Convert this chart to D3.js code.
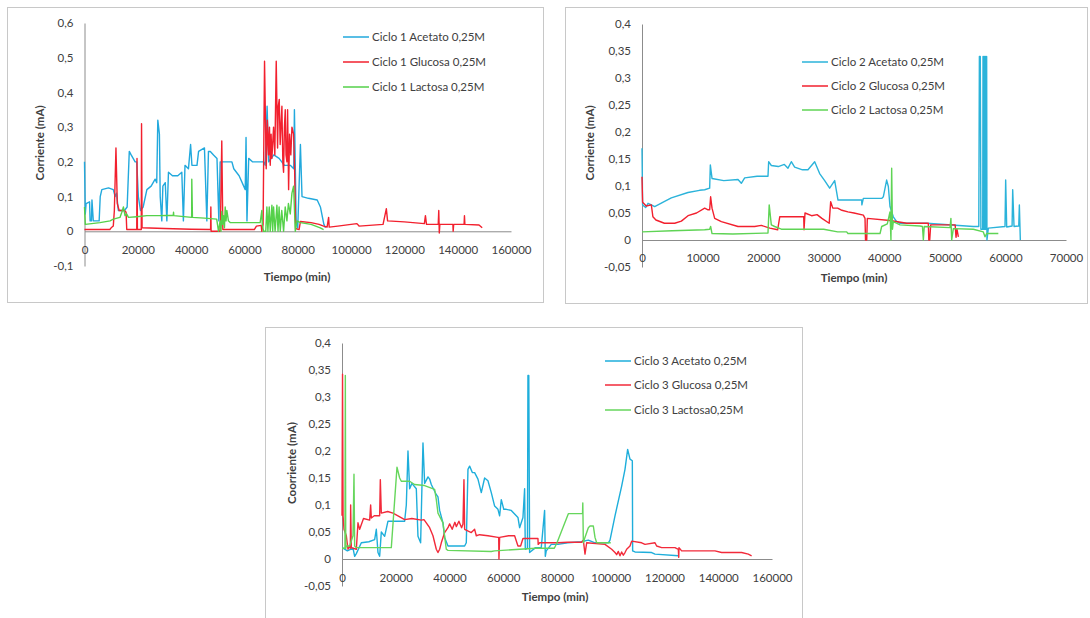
<!DOCTYPE html>
<html><head><meta charset="utf-8">
<script src="https://cdn.jsdelivr.net/npm/d3@7"></script>
<style>
html,body{margin:0;padding:0;background:#fff;}
svg{display:block;font-family:Lato,"Open Sans",sans-serif;}
</style></head>
<body>
<svg id="chart" width="1090" height="618"></svg>
<script>
// ---------- DATA ----------
const legend1 = ["Ciclo 1 Acetato 0,25M", "Ciclo 1 Glucosa 0,25M", "Ciclo 1 Lactosa 0,25M"];
const legend2 = ["Ciclo 2 Acetato 0,25M", "Ciclo 2 Glucosa 0,25M", "Ciclo 2 Lactosa 0,25M"];
const legend3 = ["Ciclo 3 Acetato 0,25M", "Ciclo 3 Glucosa 0,25M", "Ciclo 3 Lactosa0,25M"];
const yTitles = ["Corriente (mA)", "Corriente (mA)", "Coorriente (mA)"];
const xTitle = "Tiempo (min)";

const xTicks1 = [0,20000,40000,60000,80000,100000,120000,140000,160000];
const yTicks1 = [-0.1,0,0.1,0.2,0.3,0.4,0.5,0.6];
const xTicks2 = [0,10000,20000,30000,40000,50000,60000,70000];
const yTicks2 = [-0.05,0,0.05,0.1,0.15,0.2,0.25,0.3,0.35,0.4];
const xTicks3 = [0,20000,40000,60000,80000,100000,120000,140000,160000];
const yTicks3 = [-0.05,0,0.05,0.1,0.15,0.2,0.25,0.3,0.35,0.4];

const c1Acetato = [[0,0.2],[300,0.05],[600,0.08],[1900,0.085],[2100,0.03],[2600,0.03],[2800,0.09],[3300,0.03],[5500,0.03],[5900,0.1],[6500,0.12],[9000,0.125],[10800,0.12],[11500,0.1],[12000,0.11],[12700,0.06],[15000,0.06],[16000,0.07],[16800,0.23],[17500,0.22],[19000,0.2],[19600,0.2],[20200,0.1],[21000,0.06],[22000,0.07],[23400,0.12],[25000,0.13],[26500,0.15],[27100,0.14],[27500,0.32],[28100,0.28],[28400,0.1],[29000,0.03],[29400,0.13],[30300,0.14],[30900,0.03],[31500,0.17],[33000,0.16],[35000,0.16],[36500,0.17],[37100,0.03],[37700,0.19],[39000,0.18],[39800,0.25],[40300,0.19],[42200,0.19],[42800,0.23],[45000,0.24],[45900,0.03],[46500,0.23],[47200,0.23],[48400,0.22],[49700,0.21],[50400,0.03],[50900,0.2],[53000,0.2],[55300,0.2],[56000,0.18],[58000,0.16],[60300,0.12],[60600,0.27],[60950,0.03],[61600,0.21],[63000,0.2],[67200,0.2],[67800,0.19],[68500,0.36],[69100,0.2],[71000,0.22],[73000,0.21],[75000,0.19],[77200,0.19],[78500,0.18],[78750,0.35],[79400,0.03],[80000,0.01],[81000,0.25],[81600,0.1],[84000,0.095],[87300,0.09],[88500,0.07],[89800,0.02],[90400,0.01]];
const c1Glucosa = [[0,0.005],[9500,0.005],[10000,0.01],[10800,0.015],[11200,0.06],[11800,0.24],[12300,0.08],[13000,0.06],[15000,0.06],[15600,0.055],[15850,0.005],[19600,0.005],[19700,0.21],[19850,0.005],[21300,0.005],[21400,0.31],[21600,0.01],[30000,0.008],[40000,0.006],[47300,0.005],[47400,0.07],[47500,0.0],[50800,0.0],[51000,0.02],[51500,0.26],[51900,0.005],[60000,0.005],[63700,0.005],[64500,0.015],[66300,0.017],[66500,0.0],[67000,0.02],[67540,0.49],[68170,0.18],[68600,0.32],[69050,0.22],[69400,0.3],[69680,0.19],[70000,0.28],[70300,0.21],[70930,0.3],[71400,0.22],[71930,0.49],[72430,0.24],[72700,0.36],[73060,0.38],[73400,0.25],[74060,0.36],[74400,0.2],[74680,0.17],[75000,0.3],[75310,0.35],[75600,0.22],[75940,0.2],[76190,0.35],[76570,0.12],[76940,0.28],[77400,0.22],[77820,0.3],[78440,0.28],[78820,0.18],[79190,0.008],[80500,0.005],[81000,0.028],[85000,0.025],[88000,0.02],[89700,0.015],[91000,0.012],[91580,0.04],[91800,0.012],[95000,0.015],[100000,0.02],[102200,0.022],[103000,0.015],[112000,0.02],[113240,0.065],[113700,0.03],[120000,0.027],[127500,0.022],[127900,0.045],[128300,0.02],[132700,0.02],[132900,0.06],[133100,-0.005],[133300,0.02],[138200,0.02],[138300,0.0],[138500,0.02],[142400,0.02],[142540,0.045],[142700,0.02],[148000,0.018],[149190,0.01]];
const c1Lactosa = [[0,0.07],[300,0.02],[5800,0.025],[9600,0.03],[10800,0.035],[13300,0.04],[14000,0.055],[14600,0.07],[15200,0.045],[15800,0.05],[16500,0.04],[19600,0.042],[23400,0.045],[28000,0.045],[33300,0.046],[33400,0.055],[33500,0.045],[40200,0.04],[40250,0.15],[40500,0.04],[45000,0.038],[49600,0.035],[50270,0.0],[50900,0.03],[51200,0.0],[51520,0.057],[51800,0.02],[52150,0.045],[52500,0.01],[52780,0.07],[53100,0.03],[53400,0.06],[54000,0.03],[54650,0.025],[60000,0.025],[65900,0.025],[66540,0.06],[66700,0.02],[67170,0.0],[68000,0.0],[68420,0.07],[68800,0.0],[69300,0.07],[69680,0.0],[70300,0.075],[70600,0.0],[70930,0.07],[71500,0.0],[72180,0.075],[72600,0.0],[73000,0.07],[73440,0.0],[74000,0.06],[74690,0.0],[75300,0.07],[75940,0.03],[76500,0.08],[77190,0.05],[77820,0.11],[78440,0.13],[79070,0.0],[79690,0.03],[81000,0.025],[85000,0.02],[88450,0.01],[89700,0.005]];

const c2Acetato = [[0,0.17],[100,0.065],[600,0.06],[1000,0.068],[1540,0.065],[2090,0.062],[3500,0.07],[4840,0.078],[7590,0.088],[9500,0.092],[10350,0.093],[11170,0.096],[11280,0.139],[11560,0.114],[13500,0.11],[15850,0.112],[16400,0.105],[16950,0.115],[19000,0.118],[20800,0.118],[20910,0.145],[21350,0.138],[22500,0.136],[23500,0.14],[24100,0.133],[24650,0.145],[25200,0.135],[26500,0.13],[27400,0.13],[28510,0.145],[29330,0.123],[30160,0.11],[30980,0.096],[31810,0.11],[32360,0.074],[34010,0.074],[36270,0.074],[36300,0.065],[36540,0.077],[39570,0.077],[39840,0.08],[40390,0.111],[40670,0.099],[40940,0.062],[41490,0.043],[42040,0.034],[42590,0.031],[46990,0.031],[54700,0.025],[55600,0.025],[55700,0.34],[55850,0.34],[55950,0.02],[56250,0.02],[56300,0.34],[56380,0.02],[56450,0.34],[56520,0.02],[56600,0.34],[56680,0.02],[56750,0.34],[56820,0.02],[56900,0.34],[56950,0.0],[57180,0.022],[59930,0.025],[60040,0.111],[60210,0.024],[61100,0.026],[61200,0.093],[61420,0.025],[62200,0.026],[62300,0.065],[62460,0.0]];
const c2Glucosa = [[0,0.117],[100,0.07],[700,0.063],[1540,0.065],[1800,0.043],[2300,0.037],[3700,0.031],[5400,0.031],[6500,0.035],[7600,0.045],[9000,0.05],[10350,0.059],[10900,0.056],[11170,0.056],[11330,0.08],[11560,0.059],[12000,0.04],[13100,0.034],[15850,0.025],[18600,0.025],[19700,0.027],[21100,0.022],[22400,0.019],[22740,0.043],[26700,0.043],[26750,0.019],[26910,0.05],[28000,0.045],[28900,0.047],[29700,0.04],[30900,0.031],[31150,0.071],[31500,0.059],[32300,0.059],[33000,0.055],[34000,0.052],[35000,0.05],[36540,0.046],[36820,0.04],[36900,0.0],[37100,0.0],[37200,0.04],[40940,0.036],[43700,0.031],[47270,0.031],[47350,0.0],[47500,0.0],[47660,0.028],[51400,0.028],[51700,0.028],[51840,0.005],[52000,0.02],[52230,0.006]];
const c2Lactosa = [[0,0.015],[5000,0.017],[10350,0.019],[11170,0.02],[11330,0.025],[11560,0.012],[15000,0.011],[20800,0.013],[21000,0.065],[21350,0.028],[21900,0.025],[23000,0.02],[30000,0.02],[32300,0.015],[33790,0.015],[34000,0.012],[38000,0.012],[39300,0.012],[39570,0.025],[40500,0.03],[40940,0.052],[41100,0.0],[41220,0.133],[41350,0.02],[41490,0.034],[42590,0.028],[45900,0.026],[46300,0.025],[46450,0.0],[46600,0.025],[50850,0.023],[51000,0.04],[51130,0.0],[51400,0.021],[54700,0.02],[56350,0.015],[56630,0.006],[56900,0.012],[58550,0.012],[58830,0.012]];

const c3Acetato = [[0,0.02],[370,0.02],[2000,0.015],[4090,0.02],[4710,0.005],[5330,0.01],[7190,0.03],[10000,0.032],[12150,0.036],[12770,0.055],[13390,0.012],[14010,0.005],[14630,0.05],[15870,0.042],[17110,0.07],[20000,0.07],[23310,0.07],[23930,0.1],[24550,0.2],[25170,0.13],[26000,0.14],[27650,0.13],[28270,0.042],[29260,0.03],[30130,0.215],[30750,0.14],[32000,0.152],[32610,0.148],[33230,0.138],[35000,0.12],[35710,0.115],[36330,0.09],[37570,0.067],[38190,0.04],[39430,0.024],[45630,0.024],[46250,0.03],[46870,0.166],[47490,0.172],[48500,0.16],[49350,0.16],[50590,0.148],[51830,0.123],[53070,0.15],[54310,0.145],[55550,0.123],[56790,0.098],[58030,0.092],[58650,0.08],[59270,0.11],[60200,0.092],[61130,0.092],[62990,0.09],[65470,0.077],[66090,0.058],[67330,0.077],[67950,0.13],[68200,0.018],[69000,0.02],[69190,0.34],[69500,0.34],[69810,0.012],[72000,0.021],[74150,0.021],[75390,0.09],[75640,0.005],[76000,0.015],[77870,0.027],[80350,0.027],[84000,0.03],[89000,0.032],[91660,0.035],[94140,0.03],[99100,0.03],[99720,0.035],[101580,0.08],[104060,0.135],[105300,0.166],[106290,0.203],[107160,0.185],[108030,0.182],[108150,0.015],[109020,0.013],[115220,0.012],[116460,0.009],[125140,0.006]];
const c3Glucosa = [[0,0.08],[200,0.342],[400,0.08],[740,0.055],[1610,0.043],[2230,0.018],[2850,0.024],[3100,0.02],[3220,0.1],[3470,0.021],[5330,0.018],[5950,0.067],[6570,0.055],[8000,0.075],[10290,0.072],[10660,0.1],[10910,0.076],[12000,0.08],[14010,0.08],[14260,0.147],[14630,0.085],[17000,0.088],[18970,0.085],[20830,0.08],[23310,0.073],[26000,0.075],[29510,0.072],[30500,0.073],[31370,0.067],[32610,0.058],[33850,0.043],[35090,0.018],[35710,0.012],[36330,0.018],[36950,0.03],[38190,0.049],[39430,0.058],[40050,0.065],[41000,0.055],[42000,0.068],[42530,0.06],[43500,0.07],[44500,0.058],[45010,0.065],[45380,0.147],[45630,0.055],[48110,0.049],[49350,0.055],[49970,0.043],[51210,0.045],[54310,0.043],[58030,0.04],[58300,0.04],[58400,0.0],[58650,0.04],[62000,0.043],[64230,0.043],[65470,0.024],[66460,0.024],[67330,0.038],[72910,0.038],[73000,0.027],[73530,0.03],[80350,0.03],[84000,0.031],[89180,0.031],[89800,0.035],[90420,0.009],[91040,0.03],[97860,0.027],[100340,0.018],[101580,0.012],[102200,0.008],[102820,0.014],[103440,0.006],[104060,0.013],[104680,0.007],[105300,0.012],[105920,0.018],[107160,0.024],[107780,0.033],[111500,0.03],[112740,0.027],[116460,0.03],[117080,0.024],[118940,0.021],[123900,0.021],[125140,0.018],[125300,0.003],[125390,0.021],[126380,0.015],[131340,0.015],[138780,0.015],[141260,0.012],[148700,0.012],[151180,0.009],[152420,0.006]];
const c3Lactosa = [[0,0.02],[1100,0.02],[1240,0.34],[1400,0.02],[1610,0.024],[2850,0.024],[4090,0.043],[4460,0.157],[4710,0.024],[5330,0.021],[12000,0.021],[18350,0.021],[20460,0.17],[21450,0.15],[22070,0.144],[25170,0.144],[27000,0.138],[30750,0.136],[34470,0.129],[35090,0.11],[35710,0.085],[37570,0.067],[38190,0.042],[38810,0.018],[39430,0.016],[55550,0.014],[56790,0.015],[72000,0.02],[79000,0.02],[80000,0.03],[84220,0.084],[89500,0.084],[89600,0.104],[89800,0.03],[90400,0.04],[91660,0.058],[92280,0.061],[93520,0.061],[94140,0.04],[94760,0.03],[99100,0.03],[100000,0.03]];

// ---------- RENDER ----------
const loc = d3.formatLocale({decimal: ",", thousands: ".", grouping: [3], currency: ["", ""], minus: "-"});
const fmtY = loc.format("~g");
const fmtX = loc.format("d");

const colBlue = "#22a9dd", colRed = "#f2202e", colGreen = "#55d14a";

const panels = [
  {box:[7,7,536,295], x0:84.5, x1:511, yTop:23, yBot:266, xMax:160000, yMin:-0.1, yMax:0.6,
   xTicks:xTicks1, yTicks:yTicks1, series:[c1Acetato,c1Glucosa,c1Lactosa], legend:legend1,
   colors:[colBlue,colRed,colGreen], legX:343, legY:[37,62,87], xPad:15, xTitleX:297, xTitleY:281, yTitleX:40, yTitleY:143, yTitle:yTitles[0]},
  {box:[565,7,522,296], x0:642, x1:1066, yTop:24, yBot:267, xMax:70000, yMin:-0.05, yMax:0.4,
   xTicks:xTicks2, yTicks:yTicks2, series:[c2Acetato,c2Glucosa,c2Lactosa], legend:legend2,
   colors:["#2bb3da",colRed,"#5fd455"], legX:802, legY:[62,86,110], xPad:14, xTitleX:854, xTitleY:282, yTitleX:590, yTitleY:143, yTitle:yTitles[1]},
  {box:[265,327,537,300], x0:342, x1:772, yTop:343, yBot:586, xMax:160000, yMin:-0.05, yMax:0.4,
   xTicks:xTicks3, yTicks:yTicks3, series:[c3Acetato,c3Glucosa,c3Lactosa], legend:legend3,
   colors:["#1eaedb","#f22a3a","#66d65c"], legX:605, legY:[361,385,410], xPad:15, xTitleX:555, xTitleY:601, yTitleX:292, yTitleY:463, yTitle:yTitles[2]}
];

const svg = d3.select("#chart");

panels.forEach(p => {
  const g = svg.append("g");
  g.append("rect").attr("x", p.box[0]+0.5).attr("y", p.box[1]+0.5)
    .attr("width", p.box[2]).attr("height", p.box[3])
    .attr("fill", "#fff").attr("stroke", "#c8c8c8").attr("stroke-width", 1);

  const x = d3.scaleLinear().domain([0, p.xMax]).range([p.x0, p.x1]);
  const y = d3.scaleLinear().domain([p.yMin, p.yMax]).range([p.yBot, p.yTop]);

  const ya = g.append("g").attr("transform", `translate(${p.x0},0)`)
    .call(d3.axisLeft(y).tickValues(p.yTicks).tickFormat(fmtY).tickSize(0).tickPadding(11));
  ya.select(".domain").attr("stroke", "#8c8c8c");
  ya.selectAll("text").attr("fill", "#404040").style("font-size", "11.5px").style("font-family", "Lato, sans-serif");

  const xa = g.append("g").attr("transform", `translate(0,${y(0)})`)
    .call(d3.axisBottom(x).tickValues(p.xTicks).tickFormat(fmtX).tickSize(0).tickPadding(p.xPad));
  xa.select(".domain").attr("stroke", "#8c8c8c");
  xa.selectAll("text").attr("fill", "#404040").style("font-size", "11.5px").style("font-family", "Lato, sans-serif");

  const line = d3.line().x(d => x(d[0])).y(d => y(d[1]));
  p.series.forEach((s, i) => {
    g.append("path").datum(s).attr("d", line)
      .attr("fill", "none").attr("stroke", p.colors[i])
      .attr("stroke-width", 1.4).attr("stroke-linejoin", "round");
  });

  p.legend.forEach((t, i) => {
    g.append("line").attr("x1", p.legX).attr("x2", p.legX + 26)
      .attr("y1", p.legY[i]).attr("y2", p.legY[i])
      .attr("stroke", p.colors[i]).attr("stroke-width", 1.5);
    g.append("text").attr("x", p.legX + 29).attr("y", p.legY[i]).attr("dy", "0.35em")
      .attr("fill", "#404040").style("font-size", "11.5px").text(t);
  });

  g.append("text").attr("x", p.xTitleX).attr("y", p.xTitleY).attr("text-anchor", "middle")
    .attr("fill", "#404040").style("font-size", "11.5px").style("font-weight", "bold").text(xTitle);
  g.append("text").attr("transform", `translate(${p.yTitleX},${p.yTitleY}) rotate(-90)`)
    .attr("text-anchor", "middle").attr("dy", "0.35em")
    .attr("fill", "#404040").style("font-size", "11.5px").style("font-weight", "bold").text(p.yTitle);
});
</script>
</body></html>
